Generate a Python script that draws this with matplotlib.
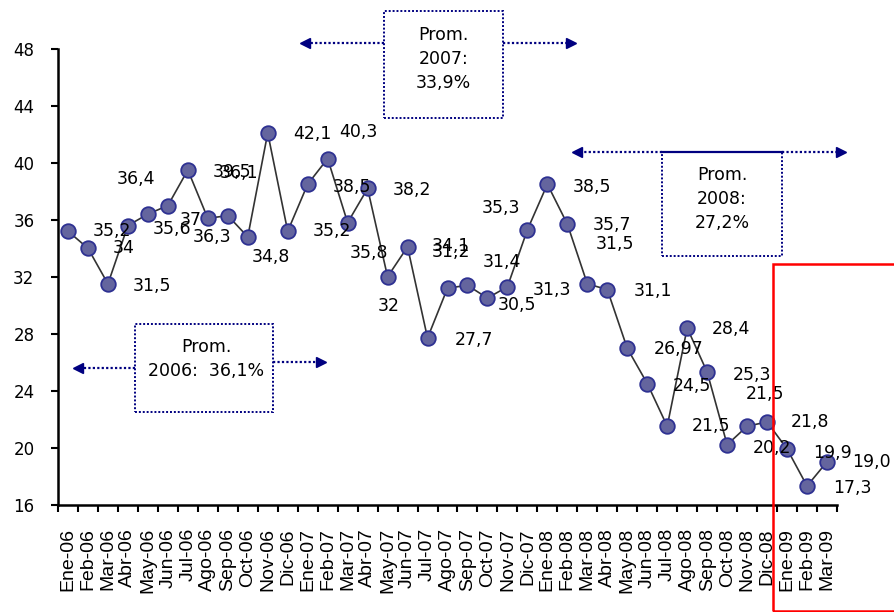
import matplotlib
matplotlib.use("Agg")
import matplotlib.pyplot as plt
from matplotlib.patches import Rectangle
from matplotlib.lines import Line2D

months = ["Ene", "Feb", "Mar", "Abr", "May", "Jun", "Jul", "Ago", "Sep", "Oct", "Nov", "Dic"]
categories = [m + "-06" for m in months] + [m + "-07" for m in months] + \
    [m + "-08" for m in months] + ["Ene-09", "Feb-09", "Mar-09"]

values = [35.2, 34, 31.5, 35.6, 36.4, 37, 39.5, 36.1, 36.3, 34.8, 42.1, 35.2,
          38.5, 40.3, 35.8, 38.2, 32, 34.1, 27.7, 31.2, 31.4, 30.5, 31.3, 35.3,
          38.5, 35.7, 31.5, 31.1, 26.97, 24.5, 21.5, 28.4, 25.3, 20.2, 21.5, 21.8,
          19.9, 17.3, 19.0]

labels = ["35,2", "34", "31,5", "35,6", "36,4", "37", "39,5", "36,1", "36,3", "34,8", "42,1", "35,2",
          "38,5", "40,3", "35,8", "38,2", "32", "34,1", "27,7", "31,2", "31,4", "30,5", "31,3", "35,3",
          "38,5", "35,7", "31,5", "31,1", "26,97", "24,5", "21,5", "28,4", "25,3", "20,2", "21,5", "21,8",
          "19,9", "17,3", "19,0"]

# label offsets in pixels (dx right, dy down), left edge of text
label_off = [(25, 0), (25, 0), (25, 2), (25, 3), (-31, -35), (12, 14), (25, 2), (12, -45),
             (-35, 21), (4, 20), (25, 1), (25, 0), (25, 3), (12, -27), (2, 30), (25, 2),
             (-10, 29), (24, -1), (27, 2), (-16, -36), (15, -23), (10, 7), (25, 3), (-46, -22),
             (25, 3), (25, 1), (8, -40), (26, 1), (26, 1), (26, 2), (25, 0), (25, 1),
             (26, 3), (26, 3), (-1, -32), (24, 0), (26, 4), (26, 2), (25, 0)]

W, H = 895, 612
fig = plt.figure(figsize=(W / 100, H / 100), dpi=100)
ax = fig.add_axes([58 / W, (H - 504.5) / H, (837 - 58) / W, (504.5 - 49) / H])

x = list(range(len(values)))
ax.plot(x, values, color="#333333", lw=1.2, marker="o", ms=10.5,
        markerfacecolor="#64659e", markeredgecolor="#2e3192", mew=1.3, zorder=3)

for i, (v, t) in enumerate(zip(values, labels)):
    dx, dy = label_off[i]
    ax.annotate(t, (i, v), xytext=(dx, -dy), textcoords="offset pixels",
                ha="left", va="center", fontsize=12.5, family="DejaVu Sans",
                annotation_clip=False, zorder=4)

ax.set_xlim(-0.5, len(values) - 0.5)
ax.set_ylim(16, 48)
ax.set_yticks(range(16, 49, 4))
ax.set_xticks(x)
ax.set_xticklabels(categories, rotation=90, family="Liberation Sans", fontsize=14)
ax.set_xticks([i - 0.5 for i in range(len(values) + 1)], minor=True)
ax.tick_params(axis="x", which="major", length=0, pad=17)
ax.tick_params(axis="x", which="minor", length=5, width=1.5, direction="out")
ax.tick_params(axis="y", length=5, width=1.5, labelsize=12, pad=12)
for lab in ax.get_yticklabels():
    lab.set_family("DejaVu Sans")
for s in ["top", "right"]:
    ax.spines[s].set_visible(False)
for s in ["left", "bottom"]:
    ax.spines[s].set_linewidth(1.8)


def fx(px):
    return px / W


def fy(py):
    return 1 - py / H


navy = "#000080"
dot = (0, (1, 1))


def box(x0, y0, x1, y1):
    fig.add_artist(Rectangle((fx(x0), fy(y1)), fx(x1) - fx(x0), fy(y0) - fy(y1),
                             transform=fig.transFigure, fill=False, ec=navy,
                             lw=1.4, ls=dot))


def arrow(x0, x1, y):
    fig.add_artist(Line2D([fx(x0), fx(x1)], [fy(y), fy(y)], transform=fig.transFigure,
                          color=navy, lw=1.6, ls=dot))
    mk = "<" if x1 < x0 else ">"
    fig.add_artist(Line2D([fx(x1)], [fy(y)], transform=fig.transFigure,
                          color=navy, marker=mk, ms=7, lw=0))


# 2006
box(135, 324, 273, 412)
arrow(135, 78, 368)
arrow(273, 321, 362)
fig.text(fx(206), fy(359), "Prom.\n2006:  36,1%", ha="center", va="center",
         fontsize=12.5, linespacing=1.45, family="DejaVu Sans")

# 2007
box(384, 11, 503, 118)
arrow(384, 305, 43)
arrow(503, 571, 43)
fig.text(fx(443.5), fy(59), "Prom.\n2007:\n33,9%", ha="center", va="center",
         fontsize=12.5, linespacing=1.45, family="DejaVu Sans")

# 2008
box(662, 152, 782, 256)
arrow(662, 577, 152)
arrow(782, 841, 152)
fig.add_artist(Line2D([fx(662), fx(782)], [fy(152), fy(152)], transform=fig.transFigure,
                      color=navy, lw=1.6))
fig.text(fx(722), fy(199), "Prom.\n2008:\n27,2%", ha="center", va="center",
         fontsize=12.5, linespacing=1.45, family="DejaVu Sans")

# red frame
fig.add_artist(Rectangle((fx(773), fy(611)), fx(930) - fx(773), fy(264) - fy(611),
                         transform=fig.transFigure, fill=False, ec="red", lw=1.8,
                         clip_on=False))

fig.savefig("out.png", dpi=100)
